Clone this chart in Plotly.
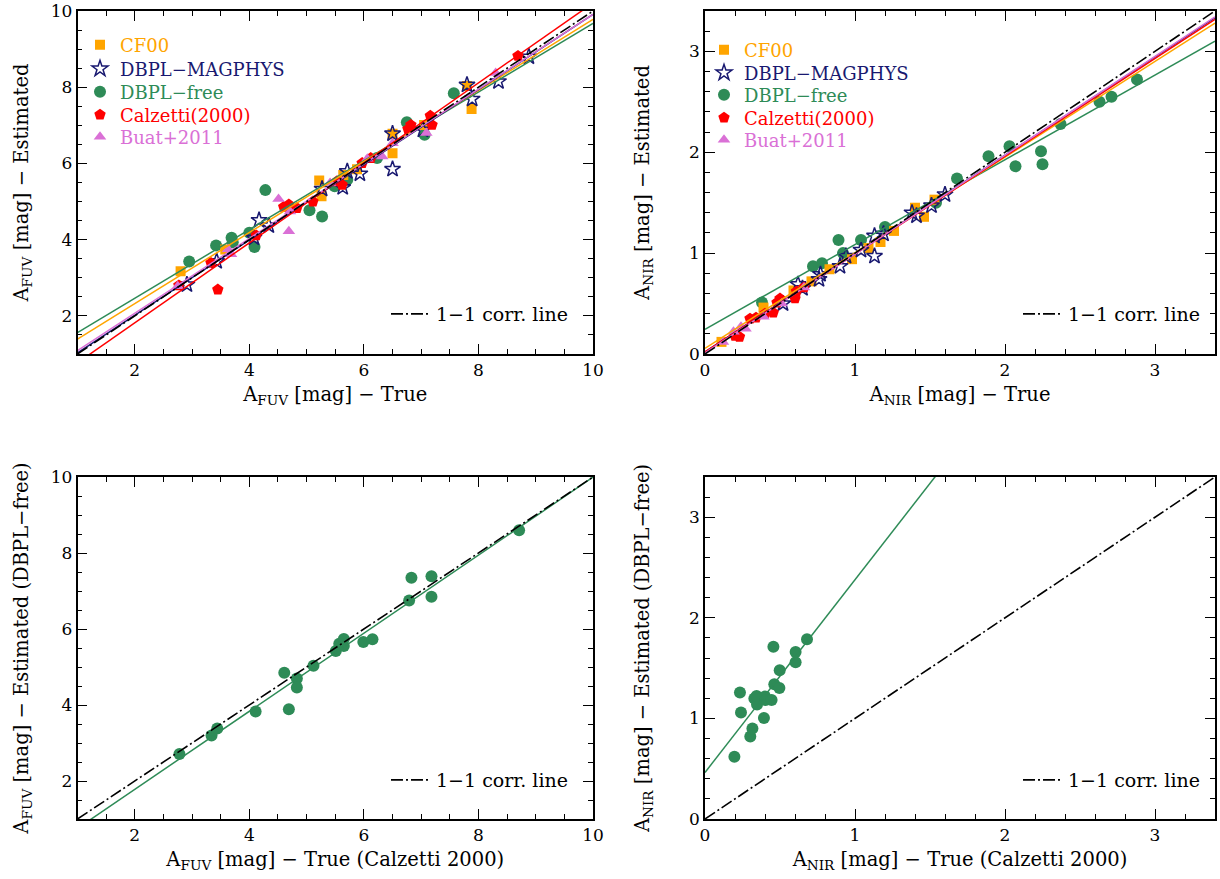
import plotly.graph_objects as go

# ---------------- data ----------------
# Top-left: A_FUV estimated vs true
cf00_fuv_true = [2.80, 3.58, 5.22, 5.26, 5.64, 5.88, 6.50, 6.50, 7.05, 7.80, 7.88]
cf00_fuv_est = [3.17, 3.74, 5.55, 5.14, 5.70, 5.85, 6.27, 6.78, 7.01, 8.03, 7.43]
magphys_fuv_true = [2.91, 3.43, 4.08, 4.17, 4.34, 5.27, 5.63, 5.71, 5.93, 6.50, 6.50, 7.03, 7.80, 7.89, 8.35, 8.88]
magphys_fuv_est = [2.82, 3.43, 4.05, 4.51, 4.37, 5.33, 5.37, 5.79, 5.73, 6.78, 5.85, 6.88, 8.06, 7.69, 8.15, 8.80]
free_fuv_true = [2.95, 3.42, 3.69, 3.71, 4.00, 4.09, 4.28, 5.05, 5.27, 5.49, 5.71, 6.23, 6.75, 7.06, 7.57]
free_fuv_est = [3.43, 3.85, 4.05, 3.93, 4.18, 3.81, 5.30, 4.77, 4.61, 5.40, 5.57, 6.14, 7.08, 6.75, 7.84]
calz_fuv_true = [2.77, 3.33, 3.45, 4.12, 4.60, 4.69, 4.83, 5.11, 5.53, 5.62, 5.97, 6.12, 6.77, 6.82, 7.16, 7.19, 8.69]
calz_fuv_est = [2.80, 3.39, 2.69, 4.11, 4.86, 4.92, 4.83, 5.00, 5.53, 5.44, 6.01, 6.14, 6.90, 7.01, 7.25, 7.01, 8.82]
buat_fuv_true = [2.75, 3.63, 3.68, 4.51, 4.69, 4.71, 5.41, 6.06, 6.32, 6.50, 7.09, 8.30]
buat_fuv_est = [2.78, 3.75, 3.62, 5.07, 4.22, 4.74, 5.49, 6.12, 6.18, 6.53, 6.80, 8.37]

# Top-right: A_NIR estimated vs true
cf00_nir_true = [0.11, 0.39, 0.59, 0.71, 0.83, 0.98, 1.09, 1.17, 1.26, 1.40, 1.46, 1.53]
cf00_nir_est = [0.12, 0.46, 0.63, 0.72, 0.84, 0.94, 1.05, 1.11, 1.22, 1.45, 1.36, 1.53]
magphys_nir_true = [0.52, 0.62, 0.65, 0.76, 0.77, 0.90, 0.94, 1.04, 1.13, 1.13, 1.19, 1.38, 1.41, 1.51, 1.60]
magphys_nir_est = [0.50, 0.69, 0.65, 0.74, 0.79, 0.87, 0.97, 1.03, 0.97, 1.17, 1.19, 1.40, 1.37, 1.47, 1.58]
free_nir_true = [0.38, 0.72, 0.78, 0.89, 0.92, 1.04, 1.20, 1.54, 1.68, 1.89, 2.03, 2.07, 2.24, 2.25, 2.37, 2.63, 2.71, 2.88]
free_nir_est = [0.51, 0.87, 0.90, 1.13, 1.00, 1.13, 1.26, 1.50, 1.74, 1.96, 2.06, 1.86, 2.01, 1.88, 2.28, 2.50, 2.55, 2.72]
calz_nir_true = [0.20, 0.23, 0.30, 0.34, 0.40, 0.455, 0.48, 0.50, 0.60, 0.61, 0.66]
calz_nir_est = [0.18, 0.17, 0.35, 0.36, 0.40, 0.41, 0.51, 0.55, 0.55, 0.62, 0.66]
buat_nir_true = [0.12, 0.19, 0.24, 0.27, 0.39, 0.51, 0.66]
buat_nir_est = [0.12, 0.22, 0.27, 0.25, 0.37, 0.50, 0.66]

# Bottom-left: DBPL-free estimate vs Calzetti "true" (FUV)
bl_fuv_true = [2.78, 3.34, 3.44, 4.11, 4.61, 4.69, 4.83, 4.83, 5.12, 5.51, 5.57, 5.65, 5.65, 5.99, 6.15, 6.79, 6.83, 7.18, 7.18, 8.71]
bl_fuv_est = [2.71, 3.20, 3.38, 3.83, 4.85, 3.89, 4.70, 4.46, 5.03, 5.42, 5.61, 5.74, 5.55, 5.66, 5.73, 6.75, 7.35, 7.39, 6.85, 8.60]

# Bottom-right: DBPL-free estimate vs Calzetti "true" (NIR)
br_nir_true = [0.196, 0.302, 0.316, 0.233, 0.240, 0.329, 0.347, 0.344, 0.393, 0.400, 0.404, 0.444, 0.456, 0.462, 0.496, 0.498, 0.604, 0.604, 0.680]
br_nir_est = [0.618, 0.820, 0.899, 1.257, 1.058, 1.197, 1.138, 1.224, 1.005, 1.217, 1.184, 1.184, 1.713, 1.339, 1.303, 1.478, 1.558, 1.660, 1.786]

# linear-fit lines: (slope, intercept)
fuv_fits = {"cf00": (0.932, 0.458), "magphys": (0.987, 0.043), "free": (0.902, 0.658),
            "calz": (1.049, -0.28), "buat": (0.980, 0.110)}
nir_fits = {"cf00": (0.948, 0.056), "magphys": (0.975, 0.020), "free": (0.840, 0.245),
            "calz": (0.970, 0.020), "buat": (0.980, 0.010)}
bl_fit = (1.027, -0.274)
br_fit = (1.916, 0.463)

fuv_range = [1, 10]
nir_range = [0, 3.4]

# ---------------- styles ----------------
FONT = "DejaVu Serif"
FW, FH = 1220, 879


def px(xw):
    """window x pixel -> paper fraction"""
    return xw / FW


def py(yw):
    """window y pixel -> paper fraction"""
    return 1 - yw / FH


colors = {"cf00": "#FFA500", "magphys": "#191970", "free": "#2E8B57", "calz": "#FF0000", "buat": "#DA70D6"}
labels = {"cf00": "CF00", "magphys": "DBPL\u2212MAGPHYS", "free": "DBPL\u2212free",
          "calz": "Calzetti(2000)", "buat": "Buat+2011"}
symbols = {"cf00": "square", "magphys": "star-open", "free": "circle", "calz": "pentagon", "buat": "triangle-up"}
sizes = {"cf00": 10, "magphys": 12, "free": 12, "calz": 12, "buat": 11}
legend_order = ["cf00", "magphys", "free", "calz", "buat"]
draw_order = ["free", "cf00", "magphys", "calz", "buat"]

fuv_data = {"cf00": (cf00_fuv_true, cf00_fuv_est), "magphys": (magphys_fuv_true, magphys_fuv_est),
            "free": (free_fuv_true, free_fuv_est), "calz": (calz_fuv_true, calz_fuv_est),
            "buat": (buat_fuv_true, buat_fuv_est)}
nir_data = {"cf00": (cf00_nir_true, cf00_nir_est), "magphys": (magphys_nir_true, magphys_nir_est),
            "free": (free_nir_true, free_nir_est), "calz": (calz_nir_true, calz_nir_est),
            "buat": (buat_nir_true, buat_nir_est)}

ONE_DASH = "12px,3px,2px,3px"

# legend ids: one legend per series item so the row spacing can follow the reference
tl_legend_ids = {k: f"legend{7 + i}" for i, k in enumerate(legend_order)}
tr_legend_ids = {k: f"legend{12 + i}" for i, k in enumerate(legend_order)}

fig = go.Figure()


def marker_for(key):
    m = dict(color=colors[key], size=sizes[key], symbol=symbols[key])
    if key == "magphys":
        m["line"] = dict(color=colors[key], width=1.5)
    else:
        m["line"] = dict(width=0)
    return m


def add_panel(data, fits, rng, xa, ya, legend_ids, legend_one):
    for key in draw_order:
        xs, ys = data[key]
        fig.add_trace(go.Scatter(
            x=xs, y=ys, mode="markers", xaxis=xa, yaxis=ya,
            marker=marker_for(key),
            name=f'<span style="color:{colors[key]}">{labels[key]}</span>',
            legend=legend_ids[key], showlegend=True))
    for key in draw_order:
        s, b = fits[key]
        fig.add_trace(go.Scatter(
            x=rng, y=[s * v + b for v in rng], mode="lines", xaxis=xa, yaxis=ya,
            line=dict(color=colors[key], width=1.5), showlegend=False, hoverinfo="skip"))
    fig.add_trace(go.Scatter(
        x=rng, y=rng, mode="lines", xaxis=xa, yaxis=ya,
        line=dict(color="black", width=1.6, dash=ONE_DASH),
        name="1\u22121 corr. line", legend=legend_one, showlegend=True))


def add_single(xs, ys, fit, rng, xa, ya, legend_one):
    fig.add_trace(go.Scatter(
        x=xs, y=ys, mode="markers", xaxis=xa, yaxis=ya,
        marker=marker_for("free"), showlegend=False))
    s, b = fit
    fig.add_trace(go.Scatter(
        x=rng, y=[s * v + b for v in rng], mode="lines", xaxis=xa, yaxis=ya,
        line=dict(color=colors["free"], width=1.5), showlegend=False, hoverinfo="skip"))
    fig.add_trace(go.Scatter(
        x=rng, y=rng, mode="lines", xaxis=xa, yaxis=ya,
        line=dict(color="black", width=1.6, dash=ONE_DASH),
        name="1\u22121 corr. line", legend=legend_one, showlegend=True))


add_panel(fuv_data, fuv_fits, fuv_range, "x", "y", tl_legend_ids, "legend2")
add_panel(nir_data, nir_fits, nir_range, "x2", "y2", tr_legend_ids, "legend4")
add_single(bl_fuv_true, bl_fuv_est, bl_fit, fuv_range, "x3", "y3", "legend5")
add_single(br_nir_true, br_nir_est, br_fit, nir_range, "x4", "y4", "legend6")

# ---------------- layout ----------------
left_dom = [px(77.5), px(593)]
right_dom = [px(705), px(1215)]
top_dom = [py(354), py(11)]
bot_dom = [py(819), py(477)]


def axis(dom, rng, dtick, minor, title, anchor, standoff):
    return dict(
        domain=dom, range=rng, anchor=anchor, dtick=dtick, tick0=0,
        showline=True, linecolor="black", linewidth=1.6, mirror="ticks",
        ticks="inside", ticklen=10, tickwidth=1.2, tickcolor="black",
        minor=dict(ticks="inside", ticklen=5, tickwidth=1.0, dtick=minor, tickcolor="black"),
        showgrid=False, zeroline=False, ticklabeloverflow="allow",
        tickfont=dict(family=FONT, size=17, color="black"),
        title=dict(text=title, font=dict(family=FONT, size=19.5, color="black"), standoff=standoff),
        automargin=False, fixedrange=True,
    )


xt_fuv = "A<sub>FUV</sub> [mag] \u2212 True"
xt_nir = "A<sub>NIR</sub> [mag] \u2212 True"
yt_fuv = "A<sub>FUV</sub> [mag] \u2212 Estimated"
yt_nir = "A<sub>NIR</sub> [mag] \u2212 Estimated"
xt_fuv_c = "A<sub>FUV</sub> [mag] \u2212 True (Calzetti 2000)"
xt_nir_c = "A<sub>NIR</sub> [mag] \u2212 True (Calzetti 2000)"
yt_fuv_c = "A<sub>FUV</sub> [mag] \u2212 Estimated (DBPL\u2212free)"
yt_nir_c = "A<sub>NIR</sub> [mag] \u2212 Estimated (DBPL\u2212free)"

series_legend_common = dict(bgcolor="rgba(0,0,0,0)", borderwidth=0,
                            font=dict(family=FONT, size=18), itemwidth=30,
                            xanchor="left", yanchor="middle")
one_legend_common = dict(bgcolor="rgba(0,0,0,0)", borderwidth=0,
                         font=dict(family=FONT, size=19, color="black"), itemwidth=40,
                         xanchor="right", yanchor="middle")

# row centres (window pixels) of the series legends
tl_rows = [45, 69, 92, 115, 137]
tr_rows = [50, 73, 95, 118, 140]

legend_layout = {}
for i, key in enumerate(legend_order):
    legend_layout[tl_legend_ids[key]] = dict(x=px(80), y=py(tl_rows[i]), **series_legend_common)
    legend_layout[tr_legend_ids[key]] = dict(x=px(704), y=py(tr_rows[i]), **series_legend_common)

fig.update_layout(
    width=FW, height=FH, margin=dict(l=0, r=0, t=0, b=0),
    paper_bgcolor="white", plot_bgcolor="white",
    font=dict(family=FONT, color="black"),
    xaxis=axis(left_dom, fuv_range, 2, 0.5, xt_fuv, "y", 8),
    yaxis=axis(top_dom, fuv_range, 2, 0.5, yt_fuv, "x", 17),
    xaxis2=axis(right_dom, nir_range, 1, 0.2, xt_nir, "y2", 8),
    yaxis2=axis(top_dom, nir_range, 1, 0.2, yt_nir, "x2", 34),
    xaxis3=axis(left_dom, fuv_range, 2, 0.5, xt_fuv_c, "y3", 8),
    yaxis3=axis(bot_dom, fuv_range, 2, 0.5, yt_fuv_c, "x3", 17),
    xaxis4=axis(right_dom, nir_range, 1, 0.2, xt_nir_c, "y4", 8),
    yaxis4=axis(bot_dom, nir_range, 1, 0.2, yt_nir_c, "x4", 34),
    legend2=dict(x=px(574), y=py(314), **one_legend_common),
    legend4=dict(x=px(1206), y=py(314), **one_legend_common),
    legend5=dict(x=px(574), y=py(780), **one_legend_common),
    legend6=dict(x=px(1206), y=py(780), **one_legend_common),
    showlegend=True,
    **legend_layout,
)

# remove the default page margin so the figure sits at the window origin
fig.write_html("out.html", config={"displayModeBar": False},
               post_script="document.body.style.margin='0';")
